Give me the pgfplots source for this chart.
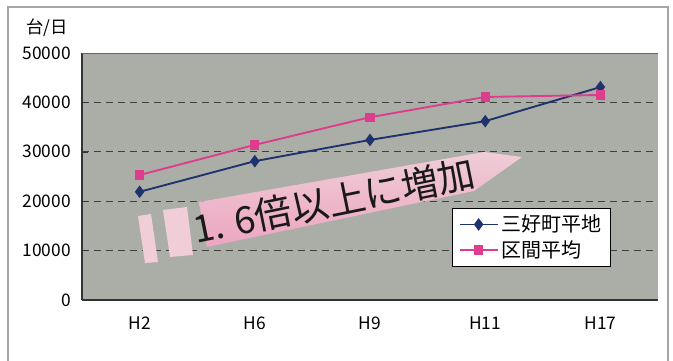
\documentclass[border=0pt]{standalone}
\usepackage{fontspec}
\setmainfont{Noto Sans CJK JP}
\usepackage{pgfplots}
\pgfplotsset{compat=1.18}
\definecolor{bg}{RGB}{170,174,166}
\definecolor{navy}{RGB}{30,50,110}
\definecolor{mpink}{RGB}{222,60,140}
\definecolor{palepink}{RGB}{240,205,215}
\definecolor{midpink}{RGB}{236,165,192}
\begin{document}
\begin{tikzpicture}
\useasboundingbox (0,0) rectangle (504.75pt,270pt);
\fill[white] (0,0) rectangle (504.75pt,270pt);
\begin{scope}[shift={(0,270pt)},x=0.75pt,y=-0.75pt]
\draw[gray!70, line width=0.8pt] (8,362) -- (8,7) -- (668,7) -- (668,362);
\node[font=\fontsize{13}{15}\selectfont] at (47,28) {台/日};
\end{scope}
\begin{axis}[at={(61.5pt,45pt)}, anchor=south west, scale only axis,
 width=432pt, height=185.25pt,
 xmin=-0.5, xmax=4.5, ymin=0, ymax=50000,
 axis background/.style={fill=bg},
 axis x line*=bottom, axis y line*=left,
 axis line style={black!80, -, line width=0.8pt},
 xtick={0,...,4}, xticklabels={H2,H6,H9,H11,H17},
 major x tick style={draw=none},
 extra x ticks={0.5,1.5,2.5,3.5}, extra x tick labels={},
 extra x tick style={major tick length=4pt, tick align=inside, grid=none, tick style={draw=black!80}},
 ytick={0,10000,...,50000}, ymajorgrids,
 grid style={dash pattern=on 5pt off 4pt, black!75, line width=0.7pt},
 major y tick style={draw=black!80},
 y tick label style={/pgf/number format/1000 sep={}},
 scaled y ticks=false,
 /pgf/number format/assume math mode=true,
 tick label style={font=\fontsize{13}{15}\selectfont},
 xticklabel style={yshift=-9pt},
 yticklabel style={xshift=-5pt},
 legend style={at={(0.642,0.372)}, anchor=north west, draw=black, fill=white,
   font=\fontsize{15}{17}\selectfont, row sep=1pt, inner xsep=5pt, inner ysep=3pt},
 legend cell align=left,
 legend image code/.code={\draw[mark repeat=2,mark phase=2] plot coordinates {(0cm,0cm) (0.5cm,0cm) (1cm,0cm)};},
]
\draw[black!60, line width=0.6pt] (rel axis cs:0,1) -- (rel axis cs:1,1);
\addplot[navy, line width=1.4pt, mark=diamond*, mark size=3.6pt, mark options={fill=navy}]
 coordinates {(0,21900) (1,28100) (2,32400) (3,36200) (4,43100)};
\addlegendentry{三好町平地}
\addplot[mpink, line width=1.4pt, mark=square*, mark size=2.8pt, mark options={fill=mpink}]
 coordinates {(0,25300) (1,31400) (2,37000) (3,41100) (4,41500)};
\addlegendentry{区間平均}
\end{axis}
\begin{scope}[shift={(0,270pt)},x=0.75pt,y=-0.75pt]
\fill[palepink] (138,216) -- (151,214) -- (158,262) -- (145,263) -- cycle;
\fill[palepink] (163,210) -- (187,207) -- (193,255) -- (170,257) -- cycle;
\shade[left color=palepink, right color=midpink, shading angle=0]
  (199,202) -- (484,152) -- (522,157) -- (474,191) -- (207,247) -- cycle;
\node[font=\fontsize{28}{30}\selectfont, rotate=11.5, black!90] at (334,201) {1. 6倍以上に増加};
\end{scope}
\end{tikzpicture}
\end{document}
